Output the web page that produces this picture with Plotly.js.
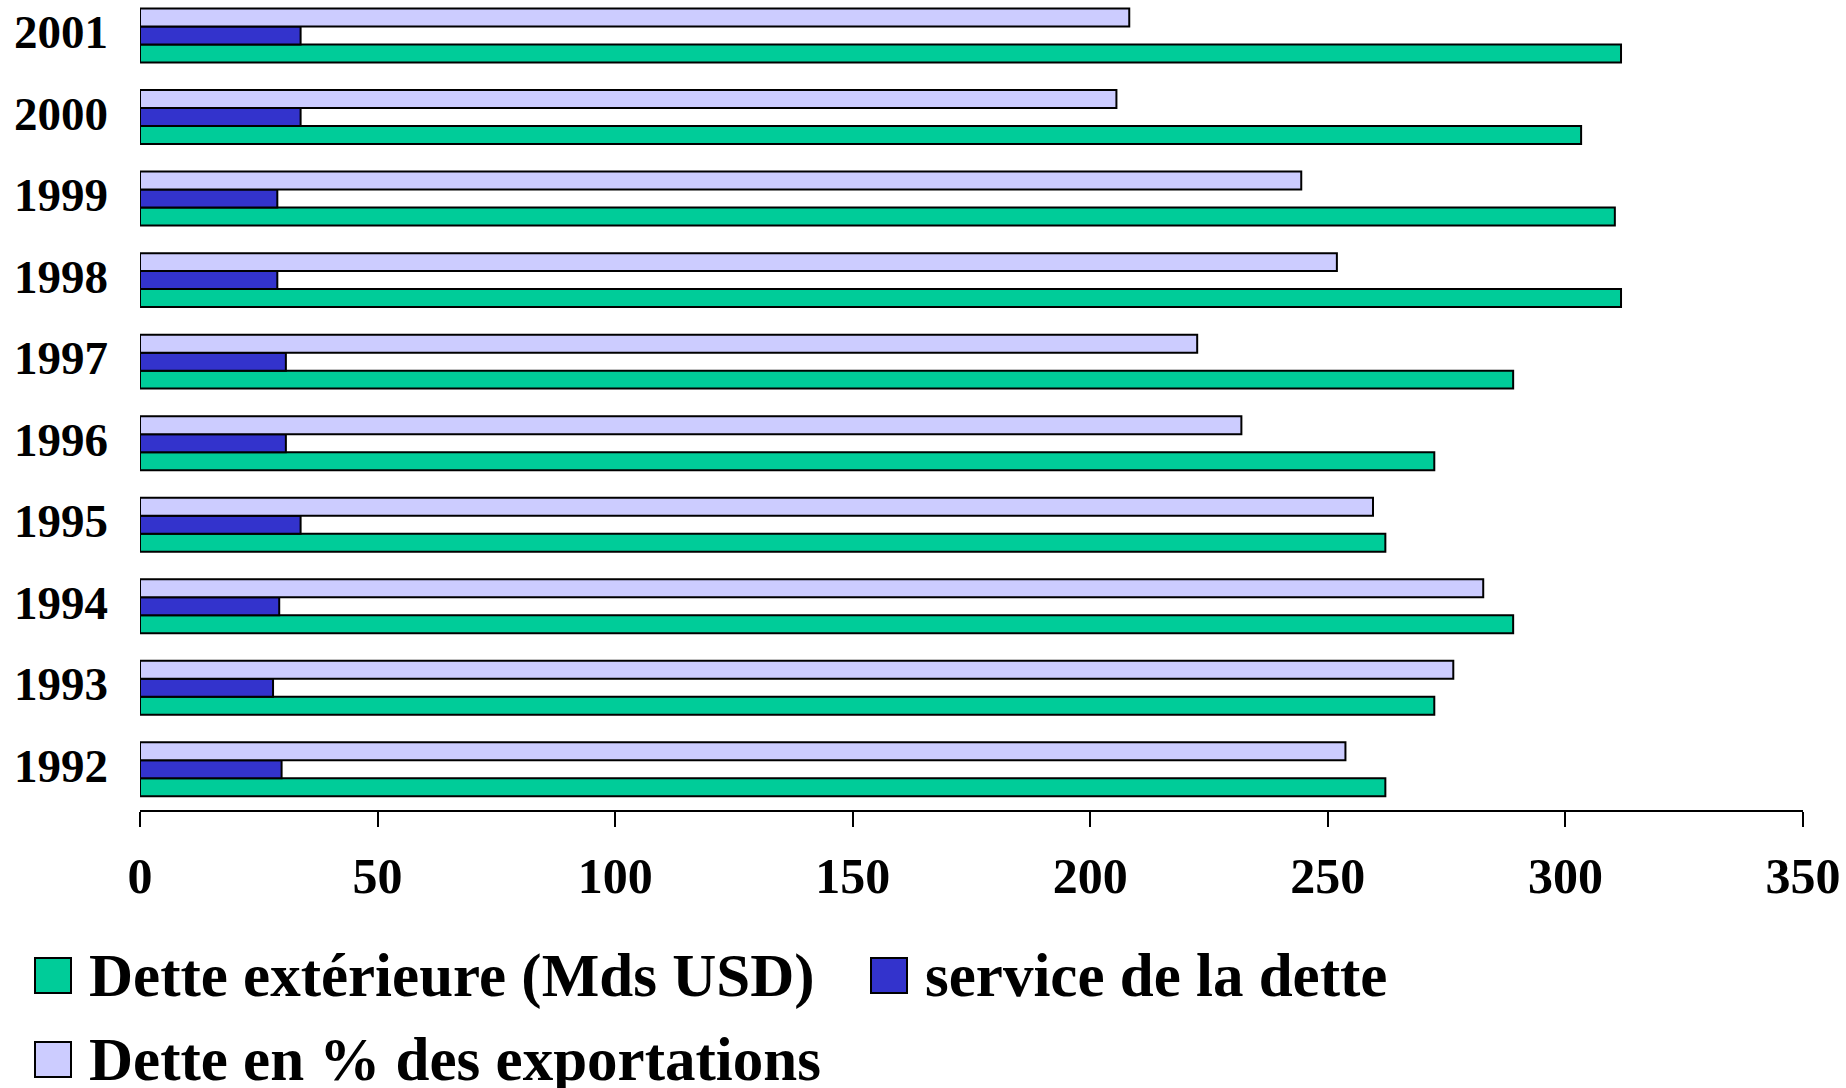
<!DOCTYPE html>
<html>
<head>
<meta charset="utf-8">
<script src="https://cdn.plot.ly/plotly-3.0.1.min.js"></script>
<style>
html,body{margin:0;padding:0;background:#fff;}
#chart{width:1846px;height:1088px;}
</style>
</head>
<body>
<div id="chart"></div>
<script>
// ---- data ----
const years = ['1992','1993','1994','1995','1996','1997','1998','1999','2000','2001'];
const detteExterieure = [262.1, 272.4, 289.0, 262.1, 272.4, 289.0, 311.7, 310.4, 303.3, 311.7];
const serviceDette = [29.8, 28.0, 29.3, 33.8, 30.7, 30.7, 28.9, 28.9, 33.8, 33.8];
const detteExportations = [253.7, 276.4, 282.7, 259.5, 231.8, 222.5, 251.9, 244.4, 205.5, 208.2];
const seriesNames = ['Dette extérieure (Mds USD)', 'service de la dette', 'Dette en % des exportations'];
const seriesColors = ['#00CC99', '#3333CC', '#CCCCFF'];
const xTicks = [0, 50, 100, 150, 200, 250, 300, 350];

const W = 1846, H = 1088;
const M = {l: 140, r: 43, t: 0, b: 278};
const PW = W - M.l - M.r, PH = H - M.t - M.b;
const px = X => (X - M.l) / PW;
const py = Y => (H - M.b - Y) / PH;

const seriesValues = [detteExterieure, serviceDette, detteExportations];
const traces = seriesValues.map((vals, i) => ({
  type: 'bar',
  orientation: 'h',
  y: years,
  x: vals,
  name: seriesNames[i],
  marker: {color: seriesColors[i], line: {color: '#000', width: 2}},
  hoverinfo: 'x+y+name'
}));

// custom legend (large squares + text)
const legendPos = [
  {sx: 35, sy: 958, tx: 87},
  {sx: 871, sy: 958, tx: 923},
  {sx: 35, sy: 1042, tx: 87}
];
const shapes = legendPos.map((p, i) => ({
  type: 'rect', xref: 'paper', yref: 'paper',
  x0: px(p.sx), x1: px(p.sx + 36), y0: py(p.sy), y1: py(p.sy + 35),
  fillcolor: seriesColors[i], line: {color: '#000', width: 2}
}));
const annotations = legendPos.map((p, i) => ({
  xref: 'paper', yref: 'paper', x: px(p.tx), y: py(p.sy + 17.5),
  xanchor: 'left', yanchor: 'middle', showarrow: false,
  text: seriesNames[i],
  font: {family: 'Liberation Serif, Times New Roman, serif', size: 61, color: '#000', weight: 'bold'}
}));

const layout = {
  width: W, height: H,
  margin: M,
  paper_bgcolor: '#fff', plot_bgcolor: '#fff',
  barmode: 'group', bargap: 0.338, bargroupgap: 0,
  showlegend: false,
  font: {family: 'Liberation Serif, Times New Roman, serif', color: '#000'},
  xaxis: {
    range: [0, 350], tickvals: xTicks, ticktext: xTicks.map(String),
    showgrid: false, zeroline: false,
    showline: true, linecolor: '#000', linewidth: 2,
    ticks: 'outside', ticklen: 15, tickwidth: 2, tickcolor: '#000',
    tickfont: {size: 50, weight: 'bold', family: 'Liberation Serif, Times New Roman, serif'},
    ticklabelstandoff: 6,
    fixedrange: true
  },
  yaxis: {
    type: 'category', categoryorder: 'array', categoryarray: years,
    range: [-0.5, 9.436],
    showgrid: false, zeroline: false, showline: false, ticks: '',
    tickfont: {size: 47, weight: 'bold', family: 'Liberation Serif, Times New Roman, serif'},
    ticklabelstandoff: 31,
    ticklabelshift: -4,
    fixedrange: true
  },
  shapes: shapes,
  annotations: annotations
};

Plotly.newPlot('chart', traces, layout, {displayModeBar: false, staticPlot: true});
</script>
</body>
</html>
